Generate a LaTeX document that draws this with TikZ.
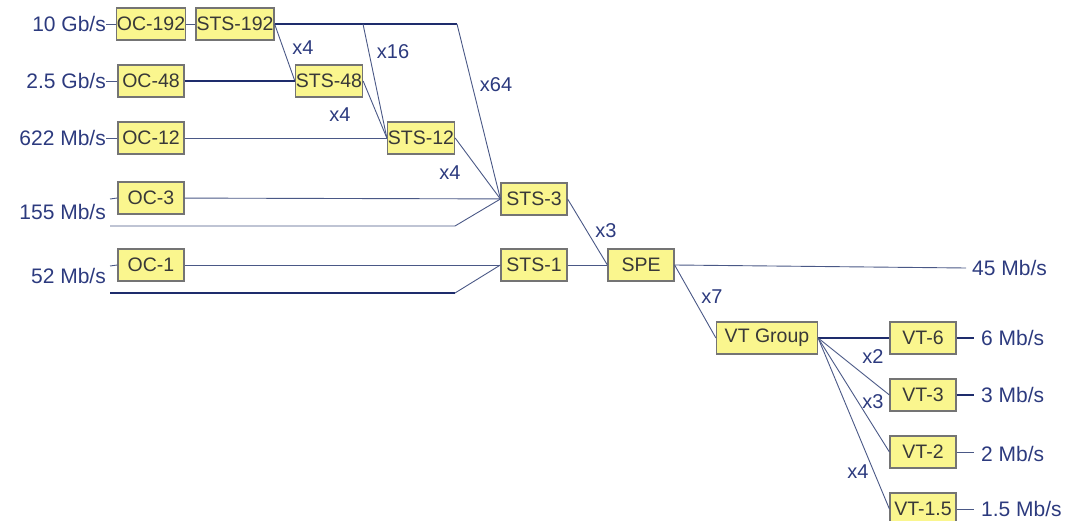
\documentclass[tikz,border=0pt]{standalone}
\usepackage{fontspec}
\setmainfont{Liberation Sans}
\usetikzlibrary{positioning}
\definecolor{boxYellow}{HTML}{FAF68E}
\definecolor{boxGray}{HTML}{747474}
\definecolor{navyText}{HTML}{2C3A7E}
\definecolor{navyLine}{HTML}{4A5886}
\definecolor{navyDark}{HTML}{1E2C6C}
\begin{document}
\begin{tikzpicture}[
  x=1pt, y=-1pt,
  level/.style={draw=boxGray, fill=boxYellow, line width=1.2pt, text=black!78,
                font=\fontsize{19.5}{22}\selectfont,
                minimum width=66pt, minimum height=32pt, inner sep=0.5pt},
  rate/.style={text=navyText, inner sep=0pt, font=\fontsize{21}{24}\selectfont},
  factor/.style={text=navyText, inner sep=0pt, font=\fontsize{20}{23}\selectfont},
  link/.style={draw=navyLine, line width=0.9pt},
  trunk/.style={draw=navyDark, line width=1.7pt}
]
  \useasboundingbox (0,0) rectangle (1075,521);

  % optical carriers
  \node[level] (oc192) at (151,24) {OC-192};
  \node[level, minimum width=78pt] (sts192) at (235,24) {STS-192};
  \node[level] (oc48) at (151,81) {OC-48};
  \node[level] (sts48) at (329,81) {STS-48};
  \node[level] (oc12) at (151,138) {OC-12};
  \node[level] (sts12) at (421,138) {STS-12};
  \node[level] (oc3) at (151,198) {OC-3};
  \node[level] (sts3) at (534,199) {STS-3};
  \node[level] (oc1) at (151,265) {OC-1};
  \node[level] (sts1) at (534,265) {STS-1};
  \node[level] (spe) at (641,265) {SPE};

  % virtual tributaries
  \node[level, minimum width=101pt] (vtgroup) at (767,338) {VT Group};
  \node[level] (vt6) at (923,338) {VT-6};
  \node[level] (vt3) at (923,395) {VT-3};
  \node[level] (vt2) at (923,452) {VT-2};
  \node[level] (vt15) at (923,509) {VT-1.5};

  % rates
  \node[rate, anchor=east] (r10g) at (106,24) {10 Gb/s};
  \node[rate, anchor=east] (r25g) at (106,81) {2.5 Gb/s};
  \node[rate, anchor=east] (r622) at (106,138) {622 Mb/s};
  \node[rate, anchor=east] (r155) at (106,212) {155 Mb/s};
  \node[rate, anchor=east] (r52) at (106,276) {52 Mb/s};
  \node[rate, anchor=west, inner xsep=6pt] (r45) at (966,268) {45 Mb/s};
  \node[rate, anchor=west, inner xsep=7pt] (r6) at (974,338) {6 Mb/s};
  \node[rate, anchor=west, inner xsep=7pt] (r3) at (974,395) {3 Mb/s};
  \node[rate, anchor=west, inner xsep=7pt] (r2) at (974,454) {2 Mb/s};
  \node[rate, anchor=west, inner xsep=7pt] (r15) at (974,509) {1.5 Mb/s};

  \coordinate (top64) at (457,24);
  \coordinate (top16) at (363,24);
  \coordinate (low3a) at (110,226);
  \coordinate (low3b) at (455,226);
  \coordinate (low1a) at (110,293);
  \coordinate (low1b) at (455,293);

  \draw[link] (r10g.east) -- (oc192);
  \draw[link] (oc192) -- (sts192);
  \draw[trunk] (sts192.east) -- (top64);
  \draw[link] (top64) -- (sts3.west);
  \draw[link] (top16) -- (sts12.west);
  \draw[link] (sts192.east) -- (sts48.west);
  \draw[link] (r25g.east) -- (oc48);
  \draw[trunk] (oc48) -- (sts48);
  \draw[link] (sts48.east) -- (sts12.west);
  \draw[link] (r622.east) -- (oc12);
  \draw[link] (oc12) -- (sts12);
  \draw[link] (sts12.east) -- (sts3.west);
  \draw[link] (110,199) -- (oc3.west);
  \draw[link] (oc3) -- (sts3);
  \draw[link] (low3a) -- (low3b) -- (sts3.west);
  \draw[link] (110,266) -- (oc1.west);
  \draw[link] (oc1) -- (sts1);
  \draw[trunk] (low1a) -- (low1b);
  \draw[link] (low1b) -- (sts1.west);
  \draw[link] (sts3.east) -- (spe.west);
  \draw[link] (sts1) -- (spe);
  \draw[link] (spe.east) -- (r45.west);
  \draw[link] (spe.east) -- (vtgroup.west);
  \draw[trunk] (vtgroup.east) -- (vt6);
  \draw[link] (vtgroup.east) -- (vt3.west);
  \draw[link] (vtgroup.east) -- (vt2.west);
  \draw[link] (vtgroup.east) -- (vt15.west);
  \draw[trunk] (vt6) -- (r6);
  \draw[trunk] (vt3) -- (r3);
  \draw[link] (vt2.east) -- (r2.west |- vt2.east);
  \draw[link] (vt15.east) -- (r15.west |- vt15.east);

  % multiplexing factors
  \node[factor] (f4a) at (303,48) {x4};
  \node[factor] (f16) at (393,52) {x16};
  \node[factor] (f64) at (496,85) {x64};
  \node[factor] (f4b) at (340,115) {x4};
  \node[factor] (f4c) at (450,173) {x4};
  \node[factor] (f3) at (606,231) {x3};
  \node[factor] (f7) at (712,297) {x7};
  \node[factor] (f2) at (873,357) {x2};
  \node[factor] (f3b) at (873,402) {x3};
  \node[factor] (f4d) at (858,472) {x4};
\end{tikzpicture}
\end{document}
